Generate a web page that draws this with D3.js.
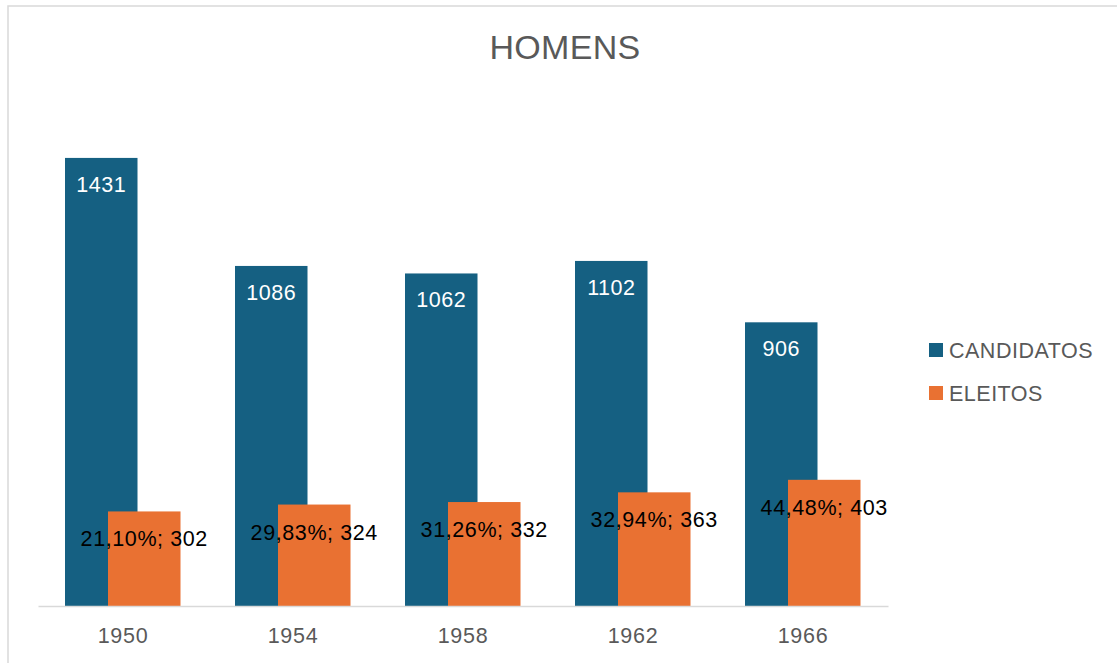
<!DOCTYPE html>
<html>
<head>
<meta charset="utf-8">
<script src="https://cdn.jsdelivr.net/npm/d3@7"></script>
<style>
  html, body { margin: 0; padding: 0; background: #fff; }
  svg { display: block; font-family: "Liberation Sans", Arial, sans-serif; }
</style>
</head>
<body>
<svg id="chart" width="1117" height="663"></svg>
<script>
const years = ["1950", "1954", "1958", "1962", "1966"];
const candidatos = [1431, 1086, 1062, 1102, 906];
const eleitos = [302, 324, 332, 363, 403];
const eleitosPct = [21.10, 29.83, 31.26, 32.94, 44.48];
const seriesNames = ["CANDIDATOS", "ELEITOS"];
const colors = ["#156082", "#E97132"];
const title = "HOMENS";

const svg = d3.select("#chart");

// outer border
svg.append("rect")
  .attr("x", 8).attr("y", 6)
  .attr("width", 1130).attr("height", 680)
  .attr("fill", "none").attr("stroke", "#d9d9d9").attr("stroke-width", 1.5);

const x = d3.scaleBand().domain(years).range([38, 888]).padding(0);
const y = d3.scaleLinear().domain([0, 1600]).range([606, 105]);

const barW = 72.5;
const blueOff = -58;
const orangeOff = -15;

// title
svg.append("text")
  .attr("x", 565).attr("y", 59)
  .attr("text-anchor", "middle")
  .attr("font-size", 34)
  .attr("letter-spacing", 0.3)
  .attr("fill", "#595959")
  .text(title);

// blue bars
svg.append("g").selectAll("rect")
  .data(years)
  .join("rect")
  .attr("x", (d) => x(d) + x.bandwidth() / 2 + blueOff)
  .attr("y", (d, i) => y(candidatos[i]))
  .attr("width", barW)
  .attr("height", (d, i) => y(0) - y(candidatos[i]))
  .attr("fill", colors[0]);

// orange bars
svg.append("g").selectAll("rect")
  .data(years)
  .join("rect")
  .attr("x", (d) => x(d) + x.bandwidth() / 2 + orangeOff)
  .attr("y", (d, i) => y(eleitos[i]))
  .attr("width", barW)
  .attr("height", (d, i) => y(0) - y(eleitos[i]))
  .attr("fill", colors[1]);

// blue labels
svg.append("g").selectAll("text")
  .data(years)
  .join("text")
  .attr("x", (d) => x(d) + x.bandwidth() / 2 + blueOff + barW / 2)
  .attr("y", (d, i) => y(candidatos[i]) + 34)
  .attr("text-anchor", "middle")
  .attr("font-size", 21.5)
  .attr("letter-spacing", 0.5)
  .attr("fill", "#ffffff")
  .text((d, i) => candidatos[i]);

// orange labels
const fmtPct = (v) => v.toFixed(2).replace(".", ",") + "%";
svg.append("g").selectAll("text")
  .data(years)
  .join("text")
  .attr("x", (d) => x(d) + x.bandwidth() / 2 + orangeOff + barW / 2)
  .attr("y", (d, i) => y(eleitos[i]) + 35)
  .attr("text-anchor", "middle")
  .attr("font-size", 21.5)
  .attr("letter-spacing", 0.6)
  .attr("fill", "#000000")
  .text((d, i) => fmtPct(eleitosPct[i]) + "; " + eleitos[i]);

// x axis
const axis = svg.append("g")
  .attr("transform", `translate(0,${y(0)})`)
  .call(d3.axisBottom(x).tickSize(0).tickPadding(22));
axis.select(".domain").attr("stroke", "#d9d9d9").attr("stroke-width", 1.5);
axis.selectAll("text")
  .attr("font-size", 21.5)
  .attr("letter-spacing", 0.7)
  .attr("fill", "#595959")
  .attr("font-family", "Liberation Sans, Arial, sans-serif");

// legend
const legend = svg.append("g");
seriesNames.forEach((name, i) => {
  const yy = 350 + i * 43;
  legend.append("rect")
    .attr("x", 929).attr("y", yy - 7)
    .attr("width", 14).attr("height", 14)
    .attr("fill", colors[i]);
  legend.append("text")
    .attr("x", 949).attr("y", yy + 7.5)
    .attr("font-size", 21.5)
    .attr("letter-spacing", 0.5)
    .attr("fill", "#595959")
    .text(name);
});
</script>
</body>
</html>
